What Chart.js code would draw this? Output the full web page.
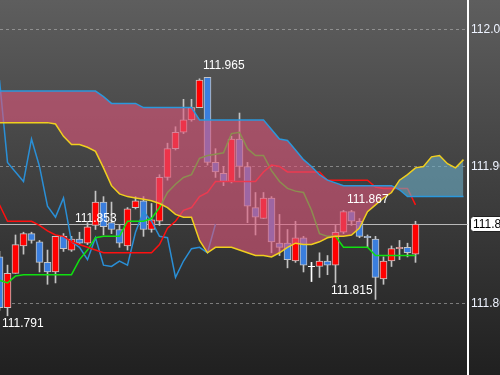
<!DOCTYPE html>
<html>
<head>
<meta charset="utf-8">
<script src="https://cdn.jsdelivr.net/npm/chart.js@4"></script>
<style>
  html, body { margin: 0; padding: 0; background: #222; }
</style>
</head>
<body>
<canvas id="c" width="500" height="375"></canvas>
<script>
/* ===== Ichimoku candle chart ===== */

// candles, bar index -1 .. 51
const firstBar = -1;
const opens = [
  111.834, 111.797, 111.822, 111.842, 111.851, 111.845, 111.830, 111.823, 111.849, 111.839,
  111.847, 111.844, 111.857, 111.874, 111.859, 111.854, 111.842, 111.870, 111.875, 111.854,
  111.860, 111.892, 111.913, 111.925, 111.934, 111.943, 111.965, 111.903, 111.895, 111.889,
  111.920, 111.900, 111.870, 111.862, 111.877, 111.844, 111.844, 111.831, 111.848, 111.827,
  111.827, 111.831, 111.828, 111.852, 111.867, 111.860, 111.849, 111.847, 111.818, 111.831,
  111.840, 111.841, 111.836
];
const highs = [
  111.838, 111.828, 111.850, 111.852, 111.852, 111.846, 111.839, 111.849, 111.851, 111.849,
  111.852, 111.859, 111.882, 111.878, 111.874, 111.857, 111.870, 111.878, 111.878, 111.873,
  111.894, 111.917, 111.929, 111.949, 111.949, 111.964, 111.965, 111.913, 111.900, 111.922,
  111.939, 111.903, 111.881, 111.881, 111.878, 111.865, 111.854, 111.860, 111.849, 111.830,
  111.837, 111.835, 111.857, 111.868, 111.868, 111.862, 111.850, 111.849, 111.834, 111.842,
  111.846, 111.844, 111.860
];
const lows = [
  111.795, 111.791, 111.822, 111.836, 111.844, 111.823, 111.814, 111.815, 111.838, 111.838,
  111.843, 111.843, 111.854, 111.850, 111.851, 111.841, 111.839, 111.869, 111.849, 111.852,
  111.857, 111.890, 111.912, 111.924, 111.933, 111.943, 111.901, 111.892, 111.886, 111.888,
  111.892, 111.859, 111.850, 111.862, 111.837, 111.835, 111.826, 111.830, 111.823, 111.816,
  111.819, 111.821, 111.815, 111.851, 111.857, 111.848, 111.841, 111.803, 111.814, 111.827,
  111.832, 111.834, 111.830
];
const closes = [
  111.797, 111.822, 111.843, 111.851, 111.846, 111.830, 111.823, 111.849, 111.840, 111.847,
  111.844, 111.856, 111.874, 111.856, 111.854, 111.844, 111.869, 111.875, 111.854, 111.861,
  111.892, 111.913, 111.925, 111.934, 111.943, 111.963, 111.903, 111.896, 111.889, 111.920,
  111.900, 111.871, 111.863, 111.877, 111.845, 111.841, 111.832, 111.848, 111.828, 111.827,
  111.831, 111.828, 111.852, 111.867, 111.860, 111.849, 111.848, 111.819, 111.831, 111.840,
  111.841, 111.837, 111.858
];

// tenkan (green) and kijun (red), index -1 .. 51
const tenkan = [
  111.817, 111.815, 111.820, 111.821, 111.821, 111.821, 111.821, 111.821, 111.821, 111.821,
  111.832, 111.839, 111.848, 111.849, 111.849, 111.849, 111.860, 111.860, 111.860, 111.862,
  111.870, 111.881, 111.887, 111.892, 111.894, 111.906, 111.908, 111.909, 111.910, 111.924,
  111.925, 111.913, 111.908, 111.908, 111.897, 111.889, 111.884, 111.882, 111.881, 111.868,
  111.851, 111.849, 111.849, 111.841, 111.841, 111.841, 111.841, 111.835, 111.835, 111.835,
  111.835, 111.835, 111.835
];
const kijun = [
  111.872, 111.860, 111.860, 111.860, 111.860, 111.857, 111.853, 111.850, 111.849, 111.845,
  111.843, 111.841, 111.839, 111.837, 111.837, 111.837, 111.837, 111.837, 111.837, 111.837,
  111.843, 111.855, 111.860, 111.868, 111.870, 111.878, 111.881, 111.889, 111.889, 111.889,
  111.889, 111.889, 111.889, 111.896, 111.901, 111.900, 111.896, 111.896, 111.896, 111.896,
  111.896, 111.890, 111.890, 111.890, 111.890, 111.890, 111.890, 111.885, 111.884, 111.884,
  111.884, 111.884, 111.872
];

// cloud spans, index -1 .. 57
const spanA = [
  111.932, 111.932, 111.932, 111.932, 111.932, 111.932, 111.932, 111.931, 111.922, 111.916,
  111.916, 111.914, 111.911, 111.899, 111.886, 111.880, 111.878, 111.877, 111.876, 111.875,
  111.873, 111.870, 111.865, 111.863, 111.863, 111.846, 111.837, 111.841, 111.841, 111.841,
  111.839, 111.837, 111.835, 111.835, 111.834, 111.837, 111.841, 111.844, 111.843, 111.843,
  111.845, 111.848, 111.849, 111.849, 111.850, 111.855, 111.867, 111.872, 111.877, 111.881,
  111.890, 111.894, 111.899, 111.900, 111.907, 111.908, 111.902, 111.899, 111.905
];
const spanB = [
  111.955, 111.955, 111.955, 111.955, 111.955, 111.955, 111.955, 111.955, 111.955, 111.955,
  111.955, 111.955, 111.955, 111.951, 111.946, 111.946, 111.946, 111.946, 111.943, 111.943,
  111.943, 111.943, 111.943, 111.943, 111.943, 111.934, 111.934, 111.934, 111.934, 111.934,
  111.934, 111.934, 111.934, 111.934, 111.927, 111.920, 111.919, 111.912, 111.905, 111.900,
  111.894, 111.890, 111.888, 111.886, 111.886, 111.886, 111.886, 111.886, 111.886, 111.886,
  111.883, 111.878, 111.878, 111.878, 111.878, 111.878, 111.878, 111.878, 111.878
];

// chikou (lagging close), index -2 .. 26
const chikouStart = -2;
const chikou = [
  111.943, 111.963, 111.903, 111.896, 111.889, 111.920, 111.900, 111.871, 111.863, 111.877,
  111.845, 111.841, 111.832, 111.848, 111.828, 111.827, 111.831, 111.828, 111.852, 111.867,
  111.860, 111.849, 111.848, 111.819, 111.831, 111.840, 111.841, 111.837, 111.858
];

const yTicks = [111.8, 111.9, 112.0];

// price marks on the chart
const markIdx  = [25, 9, 43, 0, 41];
const markVal  = [111.965, 111.853, 111.867, 111.791, 111.815];
const markSide = ['high', 'high', 'high', 'low', 'low'];

const RED = '#ff0000';
const BLUE = '#3a7ede';
const FONT = "'Liberation Sans', Arial, sans-serif";

const pts = (start, arr) => arr.map((v, k) => ({x: start + k, y: v}));

const bodies = opens.map((o, k) => ({x: firstBar + k, y: [o, closes[k]]}));
const wicks  = lows.map((l, k) => ({x: firstBar + k, y: [l, highs[k]]}));
const dojis  = [];
opens.forEach((o, k) => { if (o === closes[k]) dojis.push({x: firstBar + k, y: o}); });

const bodyColor = opens.map((o, k) => closes[k] > o ? RED : BLUE);
const wickColor = opens.map((o, k) => closes[k] === o ? '#ffffff' : '#c4c4c4');

const bgPlugin = {
  id: 'bg',
  beforeDraw(chart) {
    const {ctx, width, height} = chart;
    const g = ctx.createLinearGradient(0, 0, 0, height);
    g.addColorStop(0, '#5e5e5e');
    g.addColorStop(1, '#202020');
    ctx.save();
    ctx.fillStyle = g;
    ctx.fillRect(0, 0, width, height);
    ctx.restore();
  }
};

const priceLine = {
  id: 'priceLine',
  beforeDatasetsDraw(chart) {
    const {ctx, chartArea, scales} = chart;
    const y = Math.round(scales.y.getPixelForValue(closes[closes.length - 1])) + 0.5;
    ctx.save();
    ctx.strokeStyle = 'rgba(200,200,200,0.9)';
    ctx.lineWidth = 1;
    ctx.beginPath();
    ctx.moveTo(chartArea.left, y);
    ctx.lineTo(chartArea.right, y);
    ctx.stroke();
    ctx.restore();
  },
  afterDraw(chart) {
    const {ctx, scales} = chart;
    const last = closes[closes.length - 1];
    const y = Math.round(scales.y.getPixelForValue(last));
    // boxed last price on the axis
    ctx.save();
    ctx.fillStyle = '#ffffff';
    ctx.strokeStyle = '#222';
    ctx.lineWidth = 1;
    ctx.beginPath();
    ctx.roundRect(470.5, y - 7.5, 40, 15, 3);
    ctx.fill();
    ctx.stroke();
    ctx.fillStyle = '#000';
    ctx.font = '12px ' + FONT;
    ctx.textBaseline = 'middle';
    ctx.fillText(last.toFixed(3), 473, y + 0.5);

    // high / low marks
    ctx.fillStyle = '#ffffff';
    markIdx.forEach((idx, k) => {
      const x = Math.round(scales.x.getPixelForValue(idx)) - 5;
      const py = scales.y.getPixelForValue(markVal[k]);
      ctx.fillText(markVal[k].toFixed(3), x, markSide[k] === 'high' ? py - 12 : py + 8);
    });
    ctx.restore();
  }
};

// y range from the picture: 112.0 at y~29.5, 0.1 per ~137px
const yMax = 112.0215;
const yMin = 111.7478;

new Chart(document.getElementById('c'), {
  type: 'line',
  data: {
    datasets: [
      { label: 'Senkou A', data: pts(firstBar, spanA), borderColor: '#f0cf1e', borderWidth: 1.5,
        pointRadius: 0, tension: 0, fill: false, order: 0 },
      { label: 'Senkou B', data: pts(firstBar, spanB), borderColor: '#2b98dc', borderWidth: 1.5,
        pointRadius: 0, tension: 0, fill: false, order: 1 },
      { label: 'Cloud', data: pts(firstBar, spanA), borderWidth: 0, borderColor: 'rgba(0,0,0,0)',
        pointRadius: 0, tension: 0, order: 2,
        fill: { target: 1, above: 'rgba(108,175,200,0.6)', below: 'rgba(224,86,124,0.6)' } },
      { label: 'Doji', data: dojis, showLine: false, pointStyle: 'line', pointRadius: 3.5,
        borderColor: '#ffffff', borderWidth: 1, order: 8 },
      { label: 'Kijun', data: pts(firstBar, kijun), borderColor: '#ff1010', borderWidth: 1.5,
        pointRadius: 0, tension: 0, fill: false, order: 5 },
      { label: 'Tenkan', data: pts(firstBar, tenkan), borderColor: '#10e010', borderWidth: 1.5,
        pointRadius: 0, tension: 0, fill: false, order: 6 },
      { label: 'Chikou', data: pts(chikouStart, chikou), borderColor: '#2a8fd6', borderWidth: 1.5,
        pointRadius: 0, tension: 0, fill: false, order: 7 },
      { type: 'bar', label: 'Body', data: bodies, backgroundColor: bodyColor, borderColor: '#c4c4c4',
        borderWidth: 1, borderSkipped: false, barThickness: 7, grouped: false, order: 9 },
      { type: 'bar', label: 'Wick', data: wicks, backgroundColor: wickColor, borderWidth: 0,
        barThickness: 1, grouped: false, order: 10 }
    ]
  },
  options: {
    responsive: false,
    animation: false,
    events: [],
    layout: { padding: 0, autoPadding: false },
    plugins: { legend: { display: false }, tooltip: { enabled: false } },
    scales: {
      // bar k sits at pixel 7.5 + 8k
      x: { type: 'linear', display: false, offset: false, min: -0.9375, max: 57.5625 },
      y: {
        position: 'right',
        min: yMin,
        max: yMax,
        afterFit: s => { s.width = 32; s.paddingTop = 0; s.paddingBottom = 0; },
        afterBuildTicks: s => { s.ticks = yTicks.map(v => ({value: v})); },
        ticks: { color: '#eef3ff', padding: 3, font: { family: FONT, size: 12 },
                 callback: v => v.toFixed(3) },
        grid: { color: 'rgba(190,190,190,0.55)', lineWidth: 1, drawTicks: false },
        border: { display: true, color: '#ffffff', width: 2, dash: [3, 3] }
      }
    }
  },
  plugins: [bgPlugin, priceLine]
});
</script>
</body>
</html>
